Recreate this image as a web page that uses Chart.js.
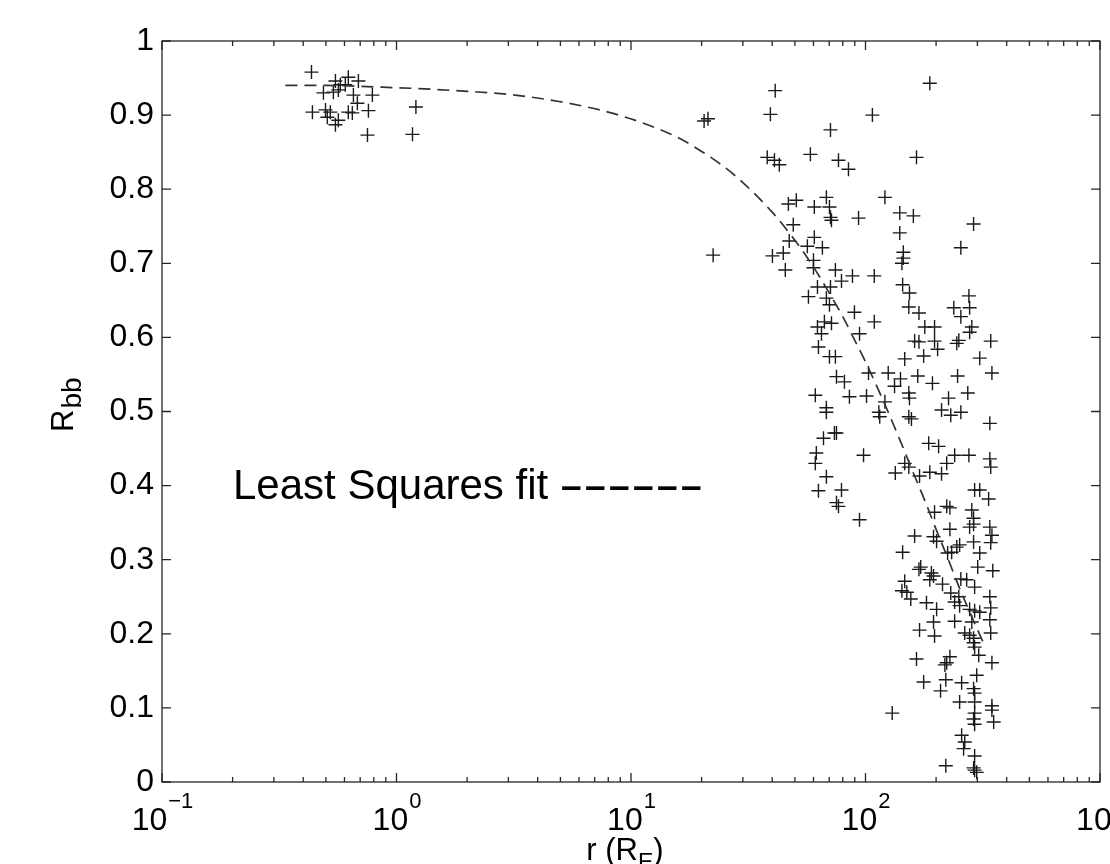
<!DOCTYPE html>
<html>
<head>
<meta charset="utf-8">
<script src="https://cdn.jsdelivr.net/npm/chart.js@4.4.0/dist/chart.umd.min.js"></script>
<style>
  html, body { margin: 0; padding: 0; background: #fff; }
  canvas { display: block; }
</style>
</head>
<body>
<canvas id="rbbChart" width="1110" height="864"></canvas>
<script>
// Ticks
const xTickValues = [0.1, 1, 10, 100, 1000];
const xTickExp = ['\u22121', '0', '1', '2', '3'];
const yTickLabels = ['0', '0.1', '0.2', '0.3', '0.4', '0.5', '0.6', '0.7', '0.8', '0.9', '1'];

// Puntos cercanos (r < 2 R_E)
const nearR = [0.434, 0.549, 0.623, 0.688, 0.576, 0.605, 0.565, 0.538, 0.488, 0.655, 0.789, 0.681,
    0.498, 0.522, 0.438, 0.623, 0.648, 0.759, 0.507, 0.565, 0.549, 1.21, 0.752, 1.17];
const nearRbb = [0.958, 0.946, 0.951, 0.946, 0.941, 0.941, 0.934, 0.931, 0.930, 0.927, 0.927, 0.916,
    0.907, 0.904, 0.904, 0.904, 0.903, 0.906, 0.897, 0.893, 0.887, 0.911, 0.873, 0.874];

// Puntos lejanos
const farR = [
    41.2, 188, 39.3, 107, 20.5, 21.3, 70.9, 38.1, 40.9, 42.9,
    58.2, 76.7, 84.6, 165, 68.1, 121, 46.9, 50.7, 60.5, 70.2,
    70.9, 71.6, 93.4, 140, 160, 289, 49.2, 140, 47.3, 60.5,
    56.5, 65.5, 22.4, 40.1, 44.6, 145, 145, 143, 255, 60.0,
    45.5, 60.0, 74.4, 88.0, 79.0, 109, 144, 154, 62.4, 70.9,
    57.1, 68.1, 70.2, 153, 169, 276, 238, 278, 255, 89.7,
    109, 62.4, 66.8, 71.6, 64.9, 179, 197, 284, 278, 94.3,
    162, 169, 197, 203, 250, 245, 342, 63.0, 70.2, 74.4,
    147, 177, 307, 75.2, 81.3, 103, 125, 141, 133, 167,
    193, 247, 346, 61.1, 85.4, 101, 121, 153, 154, 273,
    226, 68.1, 68.1, 114, 115, 153, 157, 211, 231, 255,
    339, 66.2, 73.7, 75.2, 186, 205, 61.7, 61.1, 98.1, 68.1,
    63.0, 79.0, 75.2, 76.7, 94.3, 240, 276, 339, 342, 147,
    153, 222, 134, 170, 188, 211, 292, 307, 335, 197,
    222, 229, 284, 289, 229, 278, 289, 339, 346, 342,
    162, 195, 201, 289, 252, 245, 233, 224, 144, 307,
    169, 172, 191, 195, 188, 301, 349, 147, 213, 255,
    270, 292, 143, 150, 231, 250, 339, 156, 182, 201,
    240, 252, 278, 292, 307, 342, 195, 240, 284, 339,
    170, 197, 265, 278, 289, 289, 292, 342, 304, 229,
    222, 218, 346, 165, 298, 177, 220, 209, 257, 289,
    292, 252, 292, 346, 346, 292, 289, 292, 352, 130,
    257, 265, 262, 292, 220, 289, 292, 298
];
const farRbb = [
    0.933, 0.943, 0.901, 0.900, 0.892, 0.895, 0.880, 0.843, 0.839, 0.833,
    0.847, 0.839, 0.827, 0.843, 0.789, 0.789, 0.780, 0.785, 0.776, 0.776,
    0.762, 0.758, 0.761, 0.768, 0.764, 0.753, 0.752, 0.741, 0.730, 0.735,
    0.723, 0.721, 0.711, 0.710, 0.714, 0.715, 0.707, 0.700, 0.721, 0.704,
    0.691, 0.694, 0.691, 0.683, 0.676, 0.683, 0.671, 0.660, 0.668, 0.668,
    0.655, 0.653, 0.644, 0.641, 0.633, 0.656, 0.640, 0.640, 0.628, 0.634,
    0.621, 0.614, 0.621, 0.619, 0.605, 0.614, 0.614, 0.614, 0.607, 0.605,
    0.595, 0.594, 0.595, 0.584, 0.596, 0.592, 0.595, 0.587, 0.574, 0.574,
    0.571, 0.575, 0.572, 0.547, 0.540, 0.552, 0.552, 0.544, 0.534, 0.548,
    0.538, 0.548, 0.552, 0.522, 0.520, 0.521, 0.513, 0.525, 0.518, 0.525,
    0.518, 0.505, 0.499, 0.499, 0.493, 0.493, 0.490, 0.502, 0.495, 0.499,
    0.484, 0.464, 0.471, 0.471, 0.457, 0.453, 0.444, 0.430, 0.441, 0.412,
    0.393, 0.394, 0.377, 0.372, 0.354, 0.441, 0.441, 0.436, 0.425, 0.430,
    0.425, 0.430, 0.417, 0.413, 0.418, 0.416, 0.394, 0.394, 0.382, 0.364,
    0.372, 0.370, 0.367, 0.356, 0.341, 0.344, 0.348, 0.344, 0.333, 0.323,
    0.332, 0.331, 0.325, 0.324, 0.320, 0.317, 0.310, 0.309, 0.310, 0.309,
    0.287, 0.290, 0.282, 0.278, 0.273, 0.290, 0.285, 0.271, 0.267, 0.274,
    0.273, 0.263, 0.258, 0.256, 0.255, 0.250, 0.250, 0.247, 0.242, 0.233,
    0.243, 0.238, 0.233, 0.231, 0.229, 0.235, 0.216, 0.217, 0.216, 0.219,
    0.205, 0.197, 0.201, 0.198, 0.194, 0.188, 0.182, 0.201, 0.171, 0.169,
    0.161, 0.158, 0.161, 0.166, 0.144, 0.135, 0.138, 0.123, 0.134, 0.126,
    0.120, 0.108, 0.108, 0.103, 0.097, 0.093, 0.085, 0.078, 0.081, 0.093,
    0.063, 0.054, 0.045, 0.035, 0.022, 0.019, 0.016, 0.013
];

// Ajuste por minimos cuadrados
const fitR = [0.336, 0.5, 0.8, 1.2, 2, 3, 5, 8, 12, 16, 20, 25, 30, 40, 50, 60, 70, 80, 90, 100,
    120, 140, 160, 180, 200, 225, 250, 275, 300, 323];
const fitRbb = [0.940, 0.940, 0.938, 0.936, 0.932, 0.928, 0.918, 0.904, 0.886, 0.869, 0.851, 0.830,
    0.809, 0.769, 0.731, 0.695, 0.660, 0.628, 0.596, 0.567, 0.512, 0.462, 0.417, 0.378, 0.341,
    0.301, 0.264, 0.233, 0.206, 0.183];

const FONT = '"Liberation Sans", Arial, Helvetica, sans-serif';

function toPoints(xs, ys) {
    return xs.map((v, i) => ({ x: v, y: ys[i] }));
}

// Marco, ticks hacia dentro y textos estilo MATLAB
const matlabFrame = {
    id: 'matlabFrame',
    afterDraw(chart) {
        const { ctx, chartArea: a, scales: { x, y } } = chart;
        ctx.save();
        ctx.strokeStyle = '#262626';
        ctx.lineWidth = 1.3;
        ctx.strokeRect(a.left, a.top, a.right - a.left, a.bottom - a.top);

        ctx.beginPath();
        yTickLabels.forEach((t, i) => {
            const py = y.getPixelForValue(i / 10);
            ctx.moveTo(a.left, py); ctx.lineTo(a.left + 9, py);
            ctx.moveTo(a.right, py); ctx.lineTo(a.right - 9, py);
        });
        xTickValues.forEach((v, i) => {
            const px = x.getPixelForValue(v);
            ctx.moveTo(px, a.bottom); ctx.lineTo(px, a.bottom - 9);
            ctx.moveTo(px, a.top); ctx.lineTo(px, a.top + 9);
            if (i < xTickValues.length - 1) {
                for (let m = 2; m <= 9; m++) {
                    const pm = x.getPixelForValue(v * m);
                    ctx.moveTo(pm, a.bottom); ctx.lineTo(pm, a.bottom - 5);
                    ctx.moveTo(pm, a.top); ctx.lineTo(pm, a.top + 5);
                }
            }
        });
        ctx.stroke();

        // etiquetas 10^n
        ctx.fillStyle = '#000';
        ctx.textBaseline = 'alphabetic';
        ctx.textAlign = 'left';
        const big = '32px ' + FONT, small = '22px ' + FONT;
        xTickValues.forEach((v, i) => {
            const px = x.getPixelForValue(v);
            ctx.font = big;
            const w1 = ctx.measureText('10').width;
            ctx.font = small;
            const w2 = ctx.measureText(xTickExp[i]).width;
            const left = px - (w1 + w2) / 2;
            ctx.font = big;
            ctx.fillText('10', left, 830);
            ctx.font = small;
            ctx.fillText(xTickExp[i], left + w1 + 1, 808);
        });

        // titulo eje x: r (R_E)
        ctx.font = '31px ' + FONT;
        const p1 = 'r (R', p3 = ')';
        const w1 = ctx.measureText(p1).width, w3 = ctx.measureText(p3).width;
        ctx.font = '23px ' + FONT;
        const w2 = ctx.measureText('E').width;
        let lx = (a.left + a.right) / 2 - (w1 + w2 + w3) / 2 - 6;
        ctx.font = '31px ' + FONT;
        ctx.fillText(p1, lx, 860);
        ctx.font = '23px ' + FONT;
        ctx.fillText('E', lx + w1, 870);
        ctx.font = '31px ' + FONT;
        ctx.fillText(p3, lx + w1 + w2, 860);

        // titulo eje y: R_bb
        ctx.save();
        ctx.translate(73, 432);
        ctx.rotate(-Math.PI / 2);
        ctx.font = '31px ' + FONT;
        const wR = ctx.measureText('R').width;
        ctx.fillText('R', 0, 0);
        ctx.font = '28px ' + FONT;
        ctx.fillText('bb', wR + 1, 8);
        ctx.restore();

        // anotacion
        ctx.font = '42px ' + FONT;
        ctx.fillText('Least Squares fit ', 233, 499);
        ctx.font = 'bold 37px ' + FONT;
        for (let k = 0; k < 6; k++) {
            ctx.fillText('\u2013', 561 + k * 24, 498);
        }
        ctx.restore();
    }
};

new Chart(document.getElementById('rbbChart').getContext('2d'), {
    type: 'scatter',
    data: {
        datasets: [
            {
                label: 'fit',
                type: 'line',
                data: toPoints(fitR, fitRbb),
                borderColor: '#333',
                borderWidth: 1.7,
                borderDash: [12, 7],
                pointRadius: 0,
                fill: false,
                cubicInterpolationMode: 'monotone'
            },
            {
                label: 'near',
                data: toPoints(nearR, nearRbb),
                pointStyle: 'cross',
                pointRadius: 7,
                borderColor: '#1a1a1a',
                borderWidth: 1.4
            },
            {
                label: 'far',
                data: toPoints(farR, farRbb),
                pointStyle: 'cross',
                pointRadius: 7,
                borderColor: '#1a1a1a',
                borderWidth: 1.4
            }
        ]
    },
    options: {
        responsive: false,
        animation: false,
        layout: { padding: { top: 41, right: 10, left: 0, bottom: 0 } },
        plugins: {
            legend: { display: false },
            tooltip: { enabled: false }
        },
        scales: {
            x: {
                type: 'logarithmic',
                min: 0.1,
                max: 1000,
                grid: { display: false, drawTicks: false },
                border: { display: false },
                ticks: { display: false },
                afterFit(s) { s.height = 82; s.paddingLeft = 0; s.paddingRight = 0; }
            },
            y: {
                min: 0,
                max: 1,
                grid: { display: false, drawTicks: false },
                border: { display: false },
                ticks: {
                    stepSize: 0.1,
                    padding: 8,
                    color: '#000',
                    font: { family: FONT, size: 32 },
                    callback: (v, i) => yTickLabels[i]
                },
                afterFit(s) { s.width = 162; s.paddingTop = 0; s.paddingBottom = 0; }
            }
        }
    },
    plugins: [matlabFrame]
});
</script>
</body>
</html>
